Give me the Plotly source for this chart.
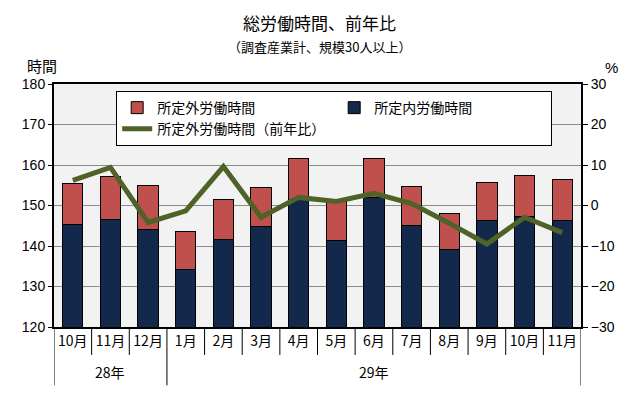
import plotly.graph_objects as go

months = ["10月", "11月", "12月", "1月", "2月", "3月", "4月", "5月", "6月", "7月", "8月", "9月", "10月", "11月"]
years = ["28年", "29年"]
year_spans = [(0, 2), (3, 13)]
scheduled = [145.4, 146.6, 144.1, 134.2, 141.6, 144.9, 151.6, 141.4, 152.0, 145.1, 139.2, 146.3, 147.3, 146.3]
overtime = [10.0, 10.6, 10.9, 9.4, 9.9, 9.6, 10.0, 9.5, 9.6, 9.6, 8.9, 9.4, 10.1, 10.0]
overtime_yoy = [6.2, 9.4, -4.2, -1.3, 9.6, -2.9, 2.0, 1.0, 3.0, 0.5, -4.4, -9.5, -2.9, -6.7]

xs = list(range(len(months)))
font_jp = "Noto Sans CJK JP"

fig = go.Figure()
fig.add_trace(go.Bar(x=xs, y=scheduled, name="所定内労働時間", marker=dict(color="#13294b", line=dict(color="black", width=1)),
                     width=0.54, legendrank=2))
fig.add_trace(go.Bar(x=xs, y=overtime, name="所定外労働時間", marker=dict(color="#c0504d", line=dict(color="black", width=1)),
                     width=0.54, legendrank=1))
fig.add_trace(go.Scatter(x=xs, y=overtime_yoy, name="所定外労働時間（前年比）", mode="lines", yaxis="y2",
                         line=dict(color="#4f6228", width=5), legendrank=3))

shapes = []
for i in range(len(months) + 1):
    b = i - 0.5
    long = i in (0, 3, len(months))
    shapes.append(dict(type="line", xref="x", yref="paper", x0=b, x1=b, y0=0, y1=-0.24 if long else -0.115,
                       line=dict(color="black", width=1)))

fig.update_layout(
    width=638, height=419,
    margin=dict(l=54, r=57, t=84, b=92),
    paper_bgcolor="white", plot_bgcolor="#f2f2f2",
    barmode="stack",
    font=dict(family="Liberation Sans, Arial", size=14, color="black"),
    showlegend=True,
    legend=dict(orientation="h", x=0.118, y=0.971, xanchor="left", yanchor="top",
                bgcolor="white", bordercolor="black", borderwidth=1, entrywidth=172,
                font=dict(family=font_jp, size=14), traceorder="normal", tracegroupgap=0,
                itemwidth=30),
    xaxis=dict(range=[-0.5, 13.5], tickvals=xs, ticktext=months, showgrid=False, zeroline=False,
               showline=True, linecolor="black", linewidth=2, mirror=True, ticks="",
               tickfont=dict(family=font_jp, size=14)),
    yaxis=dict(range=[120, 180], dtick=10, showgrid=True, gridcolor="#8c8c8c", gridwidth=1, zeroline=False,
               showline=True, linecolor="black", linewidth=2, ticks="outside", ticklen=4, tickcolor="black",
               tickfont=dict(size=14)),
    yaxis2=dict(range=[-30, 30], dtick=10, overlaying="y", side="right", showgrid=False, zeroline=False,
                showline=True, linecolor="black", linewidth=2, ticks="outside", ticklen=5, tickcolor="black",
                tickfont=dict(size=14)),
    shapes=shapes,
)

W, H = 638 - 54 - 57, 419 - 84 - 92
def px(x):
    return (x - 54) / W
def py(y):
    return (419 - 92 - y) / H

def ann(text, x, y, size, family=font_jp, xref="paper"):
    fig.add_annotation(text=text, x=x, y=py(y), xref=xref, yref="paper", showarrow=False,
                       xanchor="center", yanchor="middle", font=dict(family=family, size=size, color="black"))

ann("総労働時間、前年比", px(319), 22, 17)
ann("（調査産業計、規模30人以上）", px(319), 46, 13)
ann("時間", px(42), 66, 15)
ann("%", px(611), 67, 15, family="Liberation Sans")
for label, (a, b) in zip(years, year_spans):
    ann(label, (a + b) / 2, 372, 14, xref="x")

fig.write_html("out.html", config={"displayModeBar": False},
               post_script="document.body.style.margin='0';document.body.style.padding='0';")
